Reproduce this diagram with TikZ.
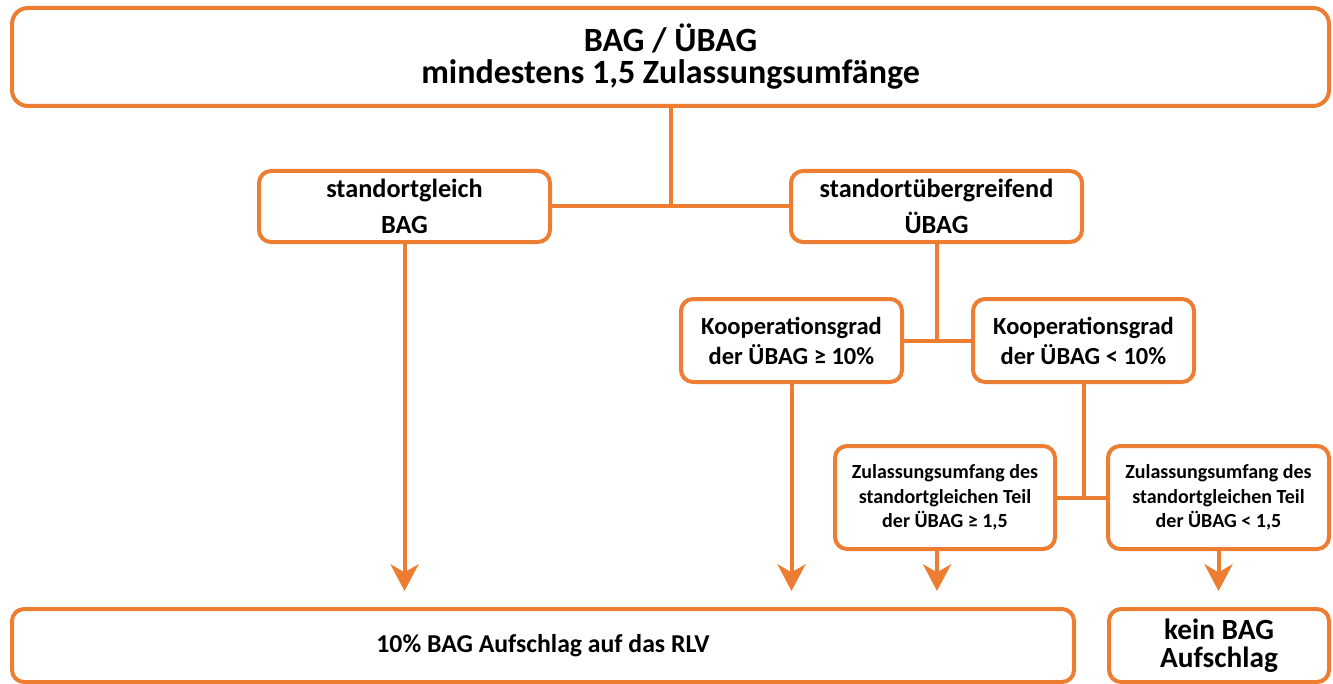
\documentclass[tikz,border=0pt]{standalone}
\usepackage{fontspec}
\setmainfont{Carlito}
\usetikzlibrary{arrows.meta}
\definecolor{bagorange}{HTML}{ED7D31}

\begin{document}
\begin{tikzpicture}[x=0.75pt, y=-0.75pt,
    box/.style={draw=bagorange, line width=3pt, rounded corners=9pt, align=center, inner sep=0pt, fill=white},
    link/.style={draw=bagorange, line width=3pt},
    arr/.style={link, -{Stealth[length=20pt, width=21pt, inset=6pt]}, shorten >=12pt}]

    \useasboundingbox (0,0) rectangle (1333,684);

    % Nodes
    \node at (670.5,57) (top) [box, minimum width=987.75pt, minimum height=73.5pt, rounded corners=12pt, font=\bfseries\fontsize{25.5}{24}\selectfont] {BAG / ÜBAG\\mindestens 1,5 Zulassungsumfänge};
    \node at (404.5,206.5) (sg) [box, minimum width=218.25pt, minimum height=53.25pt, font=\bfseries\fontsize{19.7}{27.5}\selectfont] {standortgleich\\BAG};
    \node at (936.5,206.5) (su) [box, minimum width=218.25pt, minimum height=53.25pt, font=\bfseries\fontsize{19.7}{27.5}\selectfont] {standortübergreifend\\ÜBAG};
    \node at (791.5,340.5) (kg) [box, minimum width=165.75pt, minimum height=62.25pt, font=\bfseries\fontsize{18.4}{22.5}\selectfont] {Kooperationsgrad\\der ÜBAG ≥ 10\%};
    \node at (1083.5,340.5) (kl) [box, minimum width=165.75pt, minimum height=62.25pt, font=\bfseries\fontsize{18.4}{22.5}\selectfont] {Kooperationsgrad\\der ÜBAG < 10\%};
    \node at (945,497.5) (zg) [box, minimum width=165pt, minimum height=77.25pt, font=\bfseries\fontsize{15}{18.4}\selectfont] {Zulassungsumfang des\\standortgleichen Teil\\der ÜBAG ≥ 1,5};
    \node at (1218.5,497.5) (zl) [box, minimum width=165.75pt, minimum height=77.25pt, font=\bfseries\fontsize{15}{18.4}\selectfont] {Zulassungsumfang des\\standortgleichen Teil\\der ÜBAG < 1,5};
    \node at (543,645.5) (res) [box, minimum width=796.5pt, minimum height=54.75pt, font=\bfseries\fontsize{19.3}{22}\selectfont] {10\% BAG Aufschlag auf das RLV};
    \node at (1219,645.5) (kein) [box, minimum width=165pt, minimum height=54.75pt, font=\bfseries\fontsize{22}{21}\selectfont] {kein BAG\\Aufschlag};

    % Lines
    \draw[link] (sg) -- (su);
    \draw[link] (top) -- (top |- sg);
    \draw[link] (kg) -- (kl);
    \draw[link] (su) -- (su |- kg);
    \draw[link] (zg) -- (zl);
    \draw[link] (kl) -- (kl |- zg);

    % Arrows
    \draw[arr] (sg) -- (sg |- res.north);
    \draw[arr] (kg) -- (kg |- res.north);
    \draw[arr] ([xshift=-6pt]zg.south) -- ([xshift=-6pt]zg.south |- res.north);
    \draw[arr] (zl) -- (zl |- kein.north);

\end{tikzpicture}
\end{document}
